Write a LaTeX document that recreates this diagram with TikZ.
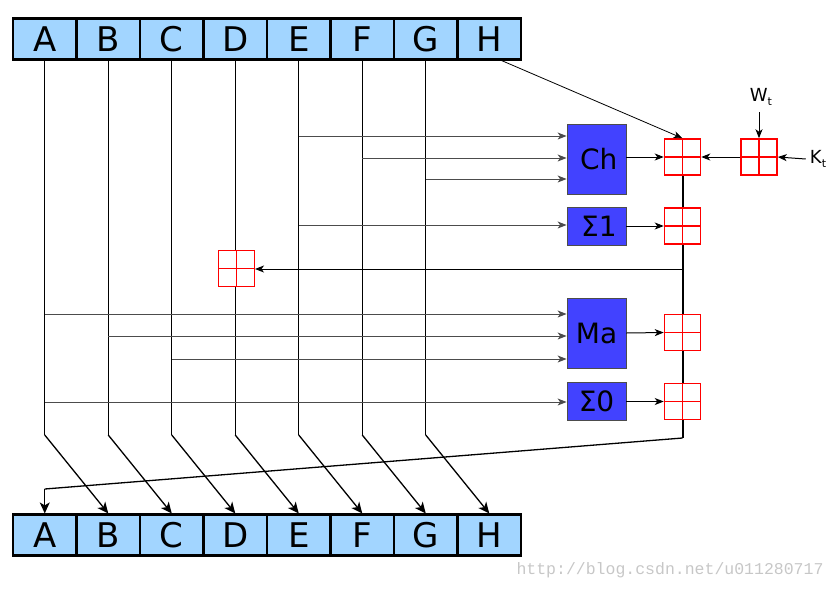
\documentclass[tikz,border=0pt]{standalone}
\usepackage{fontspec}
\setmainfont{DejaVu Sans}
\newfontfamily\wmfont{Liberation Mono}
\usetikzlibrary{arrows.meta}
\definecolor{cellblue}{HTML}{A2D5FF}
\definecolor{fnblue}{HTML}{4242FF}
\begin{document}
\begin{tikzpicture}[x=1pt,y=-1pt,
  cell/.style={draw=black, line width=2.2pt, fill=cellblue, minimum width=63.5pt,
    minimum height=41pt, inner sep=0pt, font=\fontsize{34}{34}\selectfont},
  fn/.style={draw=black!70, line width=0.8pt, fill=fnblue, inner sep=0pt,
    minimum width=59pt, font=\fontsize{28}{28}\selectfont},
  adder/.style={draw=red, fill=white, line width=1.5pt, minimum size=36pt, inner sep=0pt,
    path picture={\draw[red, line width=1.5pt]
      (path picture bounding box.north) -- (path picture bounding box.south)
      (path picture bounding box.west) -- (path picture bounding box.east);}},
  vline/.style={black, line width=1.3pt},
  inp/.style={black!70, line width=1pt, -{Stealth[length=9pt,width=7pt,inset=2.5pt]}},
  bigtip/.style={-{Stealth[length=11pt,width=10pt,inset=3pt]}},
  lbl/.style={inner sep=0pt}
]
\useasboundingbox (0,0) rectangle (836,590);

% register rows
\foreach \l [count=\i] in {A,B,C,D,E,F,G,H} {
  \node[cell] (t\l) at ({13+63.5*(\i-0.5)},39) {\l};
  \node[cell] (b\l) at ({13+63.5*(\i-0.5)},535) {\l};
}

% level coordinates
\coordinate (lev) at (0,435);
\coordinate (y135) at (0,136);
\coordinate (y157) at (0,158);
\coordinate (y180) at (0,179);
\coordinate (y225) at (0,225);
\coordinate (y269) at (0,269);
\coordinate (y314) at (0,314);
\coordinate (y336) at (0,336);
\coordinate (y359) at (0,359);
\coordinate (y402) at (0,402);

% function boxes
\node[fn, minimum height=70pt] (Ch) at (596.5,159.5) {\,Ch};
\node[fn, minimum height=38pt] (S1) at (596.5,226) {\,Σ1};
\node[fn, minimum height=70pt] (Ma) at (596.5,333) {Ma};
\node[fn, minimum height=38pt] (S0) at (596.5,401.5) {Σ0};

% vertical drops and shifts
\foreach \a/\b in {A/B,B/C,C/D,D/E,E/F,F/G,G/H} {
  \coordinate (k\a) at (t\a.south |- lev);
  \draw[vline] (t\a.south) -- (k\a);
  \draw[vline, bigtip] (k\a) -- (b\b.north);
}

% inputs to function boxes
\draw[inp] (tE.south |- y135) -- (Ch.west |- y135);
\draw[inp] (tF.south |- y157) -- (Ch.west |- y157);
\draw[inp] (tG.south |- y180) -- (Ch.west |- y180);
\draw[inp] (tE.south |- y225) -- (S1.west |- y225);
\draw[inp] (tA.south |- y314) -- (Ma.west |- y314);
\draw[inp] (tB.south |- y336) -- (Ma.west |- y336);
\draw[inp] (tC.south |- y359) -- (Ma.west |- y359);
\draw[inp] (tA.south |- y402) -- (S0.west |- y402);

% trunk from the adder column back to A
\coordinate (c1) at (682.5,157);
\coordinate (fb1) at (682.5,438);
\coordinate (fb2) at (tA.south |- {0,489});
\draw[black, line width=2pt] (c1) -- (fb1);
\draw[black, line width=1.3pt] (fb1) -- (fb2);
\draw[black, line width=1.3pt, bigtip] (fb2) -- (bA.north);
\draw[inp, black] (c1 |- y269) -- (255,269) coordinate (dIn);

\node[adder] (A1) at (c1) {};
\node[adder] (A2) at (682.5,226) {};
\node[adder] (A3) at (682.5,332.5) {};
\node[adder] (A4) at (682.5,401.5) {};
\node[adder] (AWK) at (759,157) {};
\node[adder] (AD) at (236.5,268.5) {};

% outputs of function boxes
\draw[inp, black] (Ch.east |- A1) -- (A1.west);
\draw[inp, black] (S1.east) -- (A2.west);
\draw[inp, black] (Ma.east) -- (A3.west);
\draw[inp, black] (S0.east) -- (A4.west);

% H into first adder
\draw[inp, black, line width=0.8pt] (tH.-60) -- (A1.north);

% W and K
\node[lbl, font=\fontsize{18}{18}\selectfont] (W) at (761,97) {W\raisebox{-0.35ex}{\fontsize{11}{11}\selectfont t}};
\node[lbl, font=\fontsize{18}{18}\selectfont] (K) at (818,159) {K\raisebox{-0.35ex}{\fontsize{11}{11}\selectfont t}};
\draw[inp, black] (759,112) -- (AWK.north);
\draw[inp, black] (K.west) ++(-4,0) -- (AWK.east);
\draw[inp, black] (AWK.west) -- (A1.east);

% watermark
\node[lbl, text=black!22, font=\wmfont\fontsize{16.5}{16.5}\selectfont] (wm) at (670,570) {http://blog.csdn.net/u011280717};
\end{tikzpicture}
\end{document}
